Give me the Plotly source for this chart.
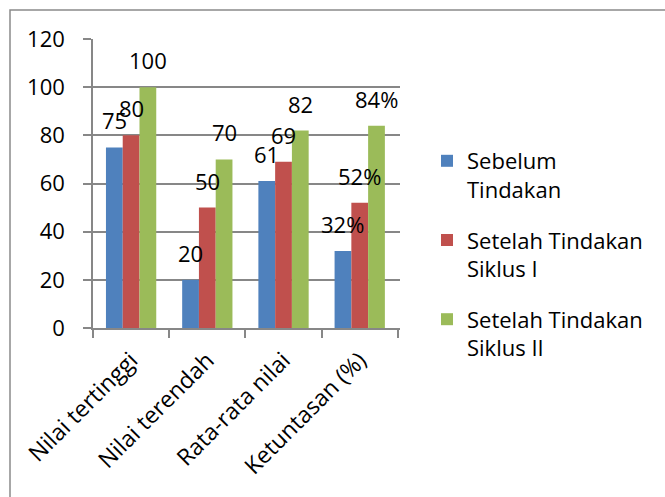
import plotly.graph_objects as go

categories = ["Nilai tertinggi", "Nilai terendah", "Rata-rata nilai", "Ketuntasan (%)"]
series_names = ["Sebelum<br>Tindakan", "Setelah Tindakan<br>Siklus I", "Setelah Tindakan<br>Siklus II"]
sebelum = [75, 20, 61, 32]
siklus_1 = [80, 50, 69, 52]
siklus_2 = [100, 70, 82, 84]
value_suffix = ["", "", "", "%"]
colors = ["#4F81BD", "#C0504D", "#9BBB59"]

series = [sebelum, siklus_1, siklus_2]

FONT = "Open Sans, Calibri, sans-serif"
FS = 22
GRID = "#878787"
W, H = 665, 497
L, R, T, B = 93, 265, 39, 169
BARGAP = 0.34

fig = go.Figure()
for name, vals, col in zip(series_names, series, colors):
    fig.add_trace(go.Bar(
        x=categories, y=vals, name=name, marker_color=col,
        marker_line_width=0, legendgroup=name,
    ))

# value labels sitting above each bar
bar_w = (1 - BARGAP) / len(series)
for k, vals in enumerate(series):
    offset = (k - (len(series) - 1) / 2) * bar_w
    for i, v in enumerate(vals):
        fig.add_annotation(
            x=i + offset, y=v, xref="x", yref="y",
            text=f"{v}{value_suffix[i]}", showarrow=False,
            yanchor="bottom", xanchor="center", yshift=10,
            font=dict(family=FONT, size=FS, color="black"),
        )

# chart frame (only the top and left edges fall inside the page)
pw, ph = W - L - R, H - T - B
def px_x(p):
    return (p - L) / pw
def px_y(p):
    return (H - B - p) / ph
fig.add_shape(type="rect", xref="paper", yref="paper",
              x0=px_x(10), x1=px_x(720), y0=px_y(10), y1=px_y(560),
              line=dict(color="#8a8a8a", width=1.5), layer="below")

fig.update_layout(
    width=W, height=H,
    margin=dict(l=L, r=R, t=T, b=B, pad=0),
    paper_bgcolor="white", plot_bgcolor="white",
    barmode="group", bargap=BARGAP, bargroupgap=0,
    font=dict(family=FONT, size=FS, color="black"),
    showlegend=True,
    legend=dict(
        x=px_x(427), y=px_y(140), xanchor="left", yanchor="top",
        font=dict(family=FONT, size=FS, color="black"),
        valign="top", tracegroupgap=19, bgcolor="rgba(0,0,0,0)",
    ),
)
fig.update_xaxes(
    type="category", tickson="boundaries", ticks="outside", ticklen=8,
    tickcolor=GRID, tickwidth=1.5, showline=True, linecolor=GRID, linewidth=1.5,
    tickangle=-45, showgrid=False, tickfont=dict(family=FONT, size=23),
    ticklabelstandoff=8,
)
fig.update_yaxes(
    range=[0, 120], dtick=20, ticks="outside", ticklen=8, tickcolor=GRID,
    tickwidth=1.5, showline=True, linecolor=GRID, linewidth=1.5,
    showgrid=True, gridcolor=GRID, gridwidth=1.5, zeroline=False,
    ticklabelstandoff=14, tickfont=dict(family=FONT, size=FS),
)

fig.write_html("out.html")
